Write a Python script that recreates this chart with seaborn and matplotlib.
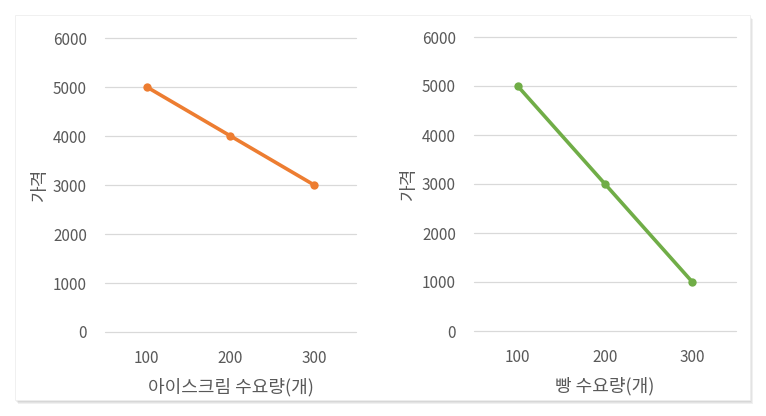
import matplotlib
matplotlib.use("Agg")
import matplotlib.pyplot as plt
from matplotlib.patches import Rectangle
import pandas as pd
import seaborn as sns

# 데이터
quantities = ["100", "200", "300"]
icecream_price = [5000, 4000, 3000]
bread_price = [5000, 3000, 1000]
y_ticks = [0, 1000, 2000, 3000, 4000, 5000, 6000]

sns.set_theme(style="white")
plt.rcParams['font.family'] = ['Noto Sans CJK KR', 'DejaVu Sans']

text_gray = '#595959'
grid_gray = '#D9D9D9'

fig = plt.figure(figsize=(7.66, 4.16), dpi=100)
fig.patch.set_facecolor('white')

# 그림자 있는 흰 상자 (축 뒤에 그리기)
for i, a in enumerate([0.05, 0.05, 0.06]):
    fig.patches.append(Rectangle((15 / 766 + (i + 1) * 0.0013, 15 / 416 - (i + 1) * 0.0024),
                                 735 / 766, 385 / 416, transform=fig.transFigure,
                                 facecolor='black', alpha=a, edgecolor='none', zorder=-3))
fig.patches.append(Rectangle((15 / 766, 16 / 416), 735 / 766, 385 / 416,
                             transform=fig.transFigure, facecolor='white',
                             edgecolor='#EEEEEE', linewidth=0.6, zorder=-2))

ax1 = fig.add_axes([105 / 766, 1 - 332 / 416, 251 / 766, 294 / 416])
ax2 = fig.add_axes([474 / 766, 1 - 331 / 416, 262 / 766, 294 / 416])

df1 = pd.DataFrame({'q': quantities, 'price': icecream_price})
df2 = pd.DataFrame({'q': quantities, 'price': bread_price})

sns.lineplot(data=df1, x='q', y='price', ax=ax1, color='#ED7D31', linewidth=2.6,
             marker='o', markersize=6, markeredgewidth=0, sort=False, clip_on=False)
sns.lineplot(data=df2, x='q', y='price', ax=ax2, color='#70AD47', linewidth=2.6,
             marker='o', markersize=6, markeredgewidth=0, sort=False, clip_on=False)

for ax, xlab in [(ax1, '아이스크림 수요량(개)'), (ax2, '빵 수요량(개)')]:
    ax.set_facecolor('none')
    ax.set_xlim(-0.5, 2.5)
    ax.set_ylim(0, 6000)
    ax.set_yticks(y_ticks)
    ax.set_yticklabels([str(v) for v in y_ticks])
    ax.yaxis.grid(True, color=grid_gray, linewidth=0.9)
    for gl in ax.get_ygridlines():
        gl.set_clip_on(False)
    ax.set_axisbelow(True)
    for s in ax.spines.values():
        s.set_visible(False)
    ax.tick_params(axis='both', length=0, labelsize=11, colors=text_gray)
    ax.tick_params(axis='y', pad=13)
    ax.tick_params(axis='x', pad=13)
    ax.set_xlabel(xlab, fontsize=13, color=text_gray, labelpad=8)
    ax.set_ylabel('가격', fontsize=13, color=text_gray, labelpad=3)

plt.savefig('out.png', dpi=100, facecolor='white')
